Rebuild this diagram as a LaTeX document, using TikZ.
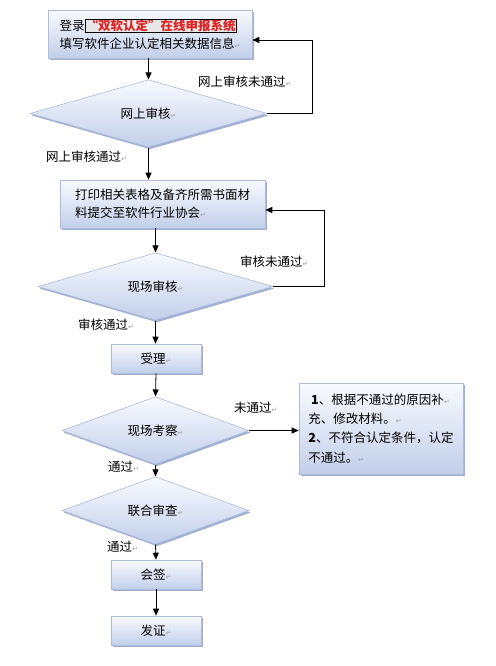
\documentclass[tikz,border=0pt]{standalone}
\usepackage{fontspec}
\setmainfont{Noto Sans CJK SC}
\newfontfamily\symf{DejaVu Sans}
\usetikzlibrary{shapes.geometric,shadows,arrows.meta}
\definecolor{topc}{HTML}{F8FAFE}
\definecolor{botc}{HTML}{C2CFEA}
\definecolor{bordc}{HTML}{AEBCDA}
\definecolor{shc}{HTML}{9FB0D2}
\definecolor{redt}{HTML}{E02020}
\newcommand\retmark{{\color{gray!75}\fontsize{7}{7}\selectfont\symf ↵}}
\tikzset{
  base/.style={draw=bordc, line width=0.6pt, top color=topc, bottom color=botc,
    general shadow={fill=shc, shadow xshift=1.5pt, shadow yshift=-2pt},
    inner sep=2pt, font=\fontsize{12.5}{18}\selectfont},
  stepbox/.style={base, rectangle, align=left},
  decide/.style={base, diamond, inner sep=0pt},
  lbl/.style={anchor=west, inner sep=0pt, font=\fontsize{12.5}{15}\selectfont},
  conn/.style={line width=0.8pt, -{Triangle[length=7pt,width=6pt]}},
  plain/.style={line width=0.8pt}
}
\begin{document}
\begin{tikzpicture}[x=1pt,y=-1pt]
\useasboundingbox[fill=white] (0,0) rectangle (495,666);
\node[stepbox, minimum width=204pt, minimum height=48pt] (b1) at (150,34)
  {登录{\setlength\fboxsep{0.6pt}\fcolorbox{black}{gray!18}{\color{redt}\bfseries “双软认定”在线申报系统}}\\填写软件企业认定相关数据信息\retmark};
\node[decide, minimum width=237pt, minimum height=51pt] (d1) at (148.5,113.5) {网上审核\retmark};
\node[stepbox, minimum width=205pt, minimum height=48pt] (b2) at (162.5,204)
  {打印相关表格及备齐所需书面材\\料提交至软件行业协会\retmark};
\node[decide, minimum width=235pt, minimum height=51pt] (d2) at (155.5,286.5) {现场审核\retmark};
\node[stepbox, minimum width=90pt, minimum height=29pt] (b3) at (156,358.5) {受理\retmark};
\node[decide, minimum width=187pt, minimum height=48pt] (d3) at (155.5,430.5) {现场考察\retmark};
\node[stepbox, minimum width=164pt, minimum height=91pt, font=\fontsize{12.5}{19.3}\selectfont] (rb) at (381,428.5)
  {\ \textbf{1}、根据不通过的原因补\retmark\\充、修改材料。\retmark\\\textbf{2}、不符合认定条件，认定\\不通过。\retmark};
\node[decide, minimum width=187pt, minimum height=48pt] (d4) at (155.5,510.5) {联合审查\retmark};
\node[stepbox, minimum width=90pt, minimum height=29pt] (b4) at (156,574.5) {会签\retmark};
\node[stepbox, minimum width=90pt, minimum height=29pt] (b5) at (156,630.5) {发证\retmark};

\coordinate (l1) at (312,40);
\coordinate (l2) at (324,210);

\draw[conn] (d1.north |- b1.south) -- (d1.north);
\draw[conn] (d1.south) -- (d1.south |- b2.north);
\draw[conn] (b2.south -| d2.north) -- (d2.north);
\draw[conn] (d2.south) -- (d2.south |- b3.north);
\draw[conn] (b3.south) -- (d3.north);
\draw[conn] (d3.east) -- (rb.west |- d3.east);
\draw[conn] (d3.south) -- (d4.north);
\draw[conn] (d4.south) -- (b4.north);
\draw[conn] (b4.south) -- (b5.north);
\draw[conn] (d1.east) -| (l1) -- (b1.east |- l1);
\draw[conn] (d2.east) -| (l2) -- (b2.east |- l2);

\node[lbl] (t1) at (198,82) {网上审核未通过\retmark};
\node[lbl] (t2) at (46,157) {网上审核通过\retmark};
\node[lbl] (t3) at (240,262) {审核未通过\retmark};
\node[lbl] (t4) at (78,325) {审核通过\retmark};
\node[lbl] (t5) at (234,408) {未通过\retmark};
\node[lbl] (t6) at (108,467) {通过\retmark};
\node[lbl] (t7) at (107,547) {通过\retmark};
\end{tikzpicture}
\end{document}
